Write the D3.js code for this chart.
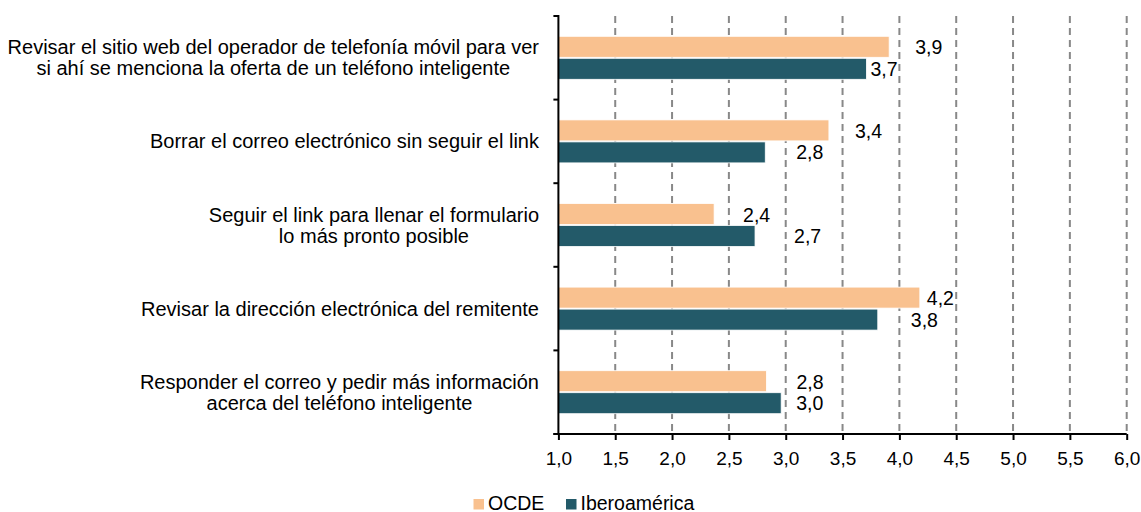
<!DOCTYPE html>
<html>
<head>
<meta charset="utf-8">
<script src="https://cdn.jsdelivr.net/npm/d3@7"></script>
<style>
	body{margin:0;background:#fff;}
	text{font-family:"Liberation Sans", Arial, sans-serif;fill:#000;}
</style>
</head>
<body>
<script>
//categories, top to bottom
var categories =[
	["Revisar el sitio web del operador de telefonía móvil para ver", "si ahí se menciona la oferta de un teléfono inteligente"],
	["Borrar el correo electrónico sin seguir el link"],
	["Seguir el link para llenar el formulario", "lo más pronto posible"],
	["Revisar la dirección electrónica del remitente"],
	["Responder el correo y pedir más información", "acerca del teléfono inteligente"]
];
var seriesNames =["OCDE", "Iberoamérica"];
var ocde =[3.91, 3.38, 2.37, 4.18, 2.83];
var ibero =[3.71, 2.82, 2.73, 3.81, 2.96];
var ocdeLabels =["3,9", "3,4", "2,4", "4,2", "2,8"];
var iberoLabels =["3,7", "2,8", "2,7", "3,8", "3,0"];
var tickValues =[1, 1.5, 2, 2.5, 3, 3.5, 4, 4.5, 5, 5.5, 6];

//label gaps after bar end (px)
var ocdeGap =[26, 26, 29, 7, 30];
var iberoGap =[4, 31, 39, 33, 15];

var colors ={OCDE: "#F9C18F", "Iberoamérica": "#235A69"};

var width =1141, height =512;
var plotLeft =558.4, plotRight =1126.7, plotTop =16, plotBottom =434;
var labelRight =539;

var svg =d3.select("body").append("svg")
	.attr("width", width)
	.attr("height", height);

var x =d3.scaleLinear()
	.domain([1, 6])
	.range([plotLeft, plotRight]);

var y =d3.scaleBand()
	.domain(d3.range(categories.length))
	.range([plotTop, plotBottom]);

//dashed gridlines
svg.selectAll(".grid")
	.data(tickValues.slice(1))
	.enter()
	.append("line")
	.attr("class", "grid")
	.attr("x1", function(d){ return x(d); })
	.attr("x2", function(d){ return x(d); })
	.attr("y1", plotTop)
	.attr("y2", plotBottom)
	.attr("stroke", "#888")
	.attr("stroke-width", 2)
	.attr("stroke-dasharray", "7,5");

var barH =21;

var groups =svg.selectAll(".cat")
	.data(categories)
	.enter()
	.append("g")
	.attr("class", "cat")
	.attr("transform", function(d, i){ return "translate(0," + (y(i) + y.bandwidth() / 2) + ")"; });

groups.append("rect")
	.attr("x", x(1))
	.attr("y", -barH - 0.5)
	.attr("width", function(d, i){ return x(ocde[i]) - x(1); })
	.attr("height", barH)
	.attr("fill", colors.OCDE)
	.attr("stroke", "#fff")
	.attr("stroke-width", 0.8);

groups.append("rect")
	.attr("x", x(1))
	.attr("y", 0.5)
	.attr("width", function(d, i){ return x(ibero[i]) - x(1); })
	.attr("height", barH)
	.attr("fill", colors["Iberoamérica"])
	.attr("stroke", "#fff")
	.attr("stroke-width", 0.8);

groups.append("text")
	.attr("x", function(d, i){ return x(ocde[i]) + ocdeGap[i]; })
	.attr("y", -barH / 2 + 7)
	.style("font-size", "19.5px")
	.text(function(d, i){ return ocdeLabels[i]; });

groups.append("text")
	.attr("x", function(d, i){ return x(ibero[i]) + iberoGap[i]; })
	.attr("y", barH / 2 + 7.5)
	.style("font-size", "19.5px")
	.text(function(d, i){ return iberoLabels[i]; });

//category labels: block right-aligned, lines centred inside it
groups.append("text")
	.attr("text-anchor", "middle")
	.style("font-size", "20px")
	.each(function(d){
		var t =d3.select(this);
		var n =d.length;
		var spans =d.map(function(line, k){
			return t.append("tspan")
				.attr("y", (k - (n - 1) / 2) * 21 + 7)
				.text(line);
		});
		var maxW =d3.max(spans, function(s){ return s.node().getComputedTextLength(); });
		spans.forEach(function(s){ s.attr("x", labelRight - maxW / 2); });
	});

//axes
var xAxis =d3.axisBottom(x)
	.tickValues(tickValues)
	.tickSize(6)
	.tickFormat(function(d){ return d3.format(".1f")(d).replace(".", ","); });

var xg =svg.append("g")
	.attr("transform", "translate(0," + plotBottom + ")")
	.call(xAxis);
xg.select(".domain").attr("d", "M" + (plotLeft - 5) + ",0H" + plotRight).attr("stroke-width", 2);
xg.selectAll(".tick line").attr("stroke-width", 2);
xg.selectAll(".tick text")
	.attr("y", 31)
	.attr("dy", null)
	.style("font-size", "19px")
	.style("font-family", "Liberation Sans, Arial, sans-serif");

var yTicks =d3.range(categories.length + 1).map(function(i){ return plotTop + i * y.step(); });
svg.append("line")
	.attr("x1", plotLeft).attr("x2", plotLeft)
	.attr("y1", plotTop - 1).attr("y2", plotBottom)
	.attr("stroke", "#000")
	.attr("stroke-width", 2);
svg.selectAll(".ytick")
	.data(yTicks)
	.enter()
	.append("line")
	.attr("x1", plotLeft - 5).attr("x2", plotLeft)
	.attr("y1", function(d){ return d; })
	.attr("y2", function(d){ return d; })
	.attr("stroke", "#000")
	.attr("stroke-width", 2);

//legend
var legendX =[473.5, 566];
var legend =svg.selectAll(".legend")
	.data(seriesNames)
	.enter()
	.append("g")
	.attr("class", "legend")
	.attr("transform", function(d, i){ return "translate(" + legendX[i] + ",499)"; });
legend.append("rect")
	.attr("width", 10.5)
	.attr("height", 10.5)
	.attr("fill", function(d){ return colors[d]; });
legend.append("text")
	.attr("x", 14.5)
	.attr("y", 10.5)
	.style("font-size", "19.5px")
	.text(function(d){ return d; });
</script>
</body>
</html>
